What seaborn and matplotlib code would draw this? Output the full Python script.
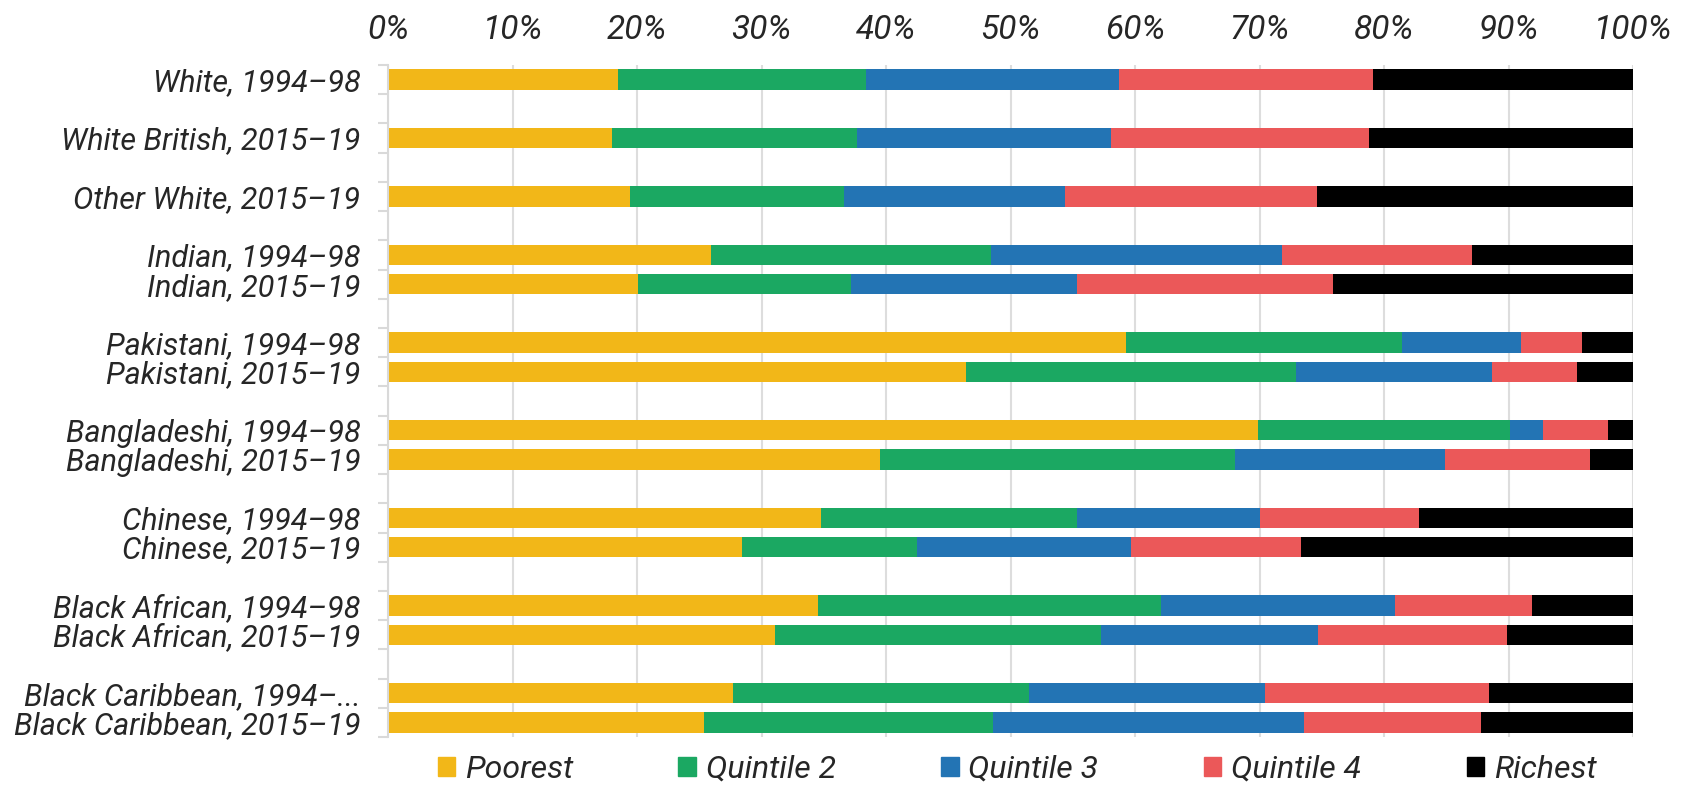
import numpy as np
import pandas as pd
import matplotlib
matplotlib.use('Agg')
import matplotlib.pyplot as plt
from matplotlib.patches import Patch
import seaborn as sns

# Rows of the chart (top to bottom)
rows = [
    'White, 1994–98', 'White British, 2015–19', 'Other White, 2015–19',
    'Indian, 1994–98', 'Indian, 2015–19',
    'Pakistani, 1994–98', 'Pakistani, 2015–19',
    'Bangladeshi, 1994–98', 'Bangladeshi, 2015–19',
    'Chinese, 1994–98', 'Chinese, 2015–19',
    'Black African, 1994–98', 'Black African, 2015–19',
    'Black Caribbean, 1994–...', 'Black Caribbean, 2015–19',
]

# Share of each group in each income quintile (%)
poorest    = [18.5, 18.0, 19.4, 25.9, 20.1, 59.3, 46.4, 69.9, 39.5, 34.8, 28.4, 34.5, 31.1, 27.7, 25.4]
quintile_2 = [19.9, 19.7, 17.2, 22.5, 17.1, 22.1, 26.5, 20.2, 28.5, 20.5, 14.1, 27.6, 26.2, 23.8, 23.2]
quintile_3 = [20.3, 20.4, 17.8, 23.4, 18.1,  9.6, 15.8,  2.7, 16.9, 14.7, 17.2, 18.8, 17.4, 18.9, 25.0]
quintile_4 = [20.4, 20.7, 20.2, 15.3, 20.6,  4.9,  6.8,  5.2, 11.6, 12.8, 13.6, 11.0, 15.2, 18.0, 14.2]
richest    = [20.9, 21.2, 25.4, 12.9, 24.1,  4.1,  4.5,  2.0,  3.5, 17.2, 26.7,  8.1, 10.1, 11.6, 12.2]

series_names = ['Poorest', 'Quintile 2', 'Quintile 3', 'Quintile 4', 'Richest']
colors = ['#F2B718', '#1BA862', '#2374B4', '#EB5859', '#000000']

# blank slots after these rows
gap_after = [0, 1, 2, 4, 6, 8, 10, 12]

order = []
for i, r in enumerate(rows):
    order.append(r)
    if i in gap_after:
        order.append('gap%d' % i)

df = pd.DataFrame({'row': rows, 'Poorest': poorest, 'Quintile 2': quintile_2,
                   'Quintile 3': quintile_3, 'Quintile 4': quintile_4, 'Richest': richest})
cum = df[series_names].cumsum(axis=1)

sns.set_style('white')
plt.rcParams['font.family'] = ['Roboto', 'DejaVu Sans']
plt.rcParams['font.style'] = 'italic'

fig, ax = plt.subplots(figsize=(16.96, 7.85), dpi=100)
fig.subplots_adjust(left=0.2288, right=0.9629, top=0.9172, bottom=0.0611)

# overlay cumulative bars, longest first
for name, col in reversed(list(zip(series_names, colors))):
    sns.barplot(x=cum[name], y=df['row'], order=order, orient='h', color=col,
                saturation=1, width=0.7, linewidth=0, ax=ax)

ax.set_xlim(0, 100)
ax.set_xticks(np.arange(0, 101, 10))
ax.set_xticklabels(['%d%%' % v for v in range(0, 101, 10)])
ax.xaxis.tick_top()
ax.tick_params(axis='x', length=0, pad=14, labelsize=24)
ax.set_xlabel('')
ax.set_ylabel('')

ax.set_yticks(np.arange(len(order)))
ax.set_yticklabels([o if not o.startswith('gap') else '' for o in order])
ax.tick_params(axis='y', which='major', length=0, pad=20, labelsize=22)
ax.set_yticks(np.arange(-0.5, len(order), 1), minor=True)
ax.tick_params(axis='y', which='minor', length=7, width=1.5, color='#d9d9d9', left=True)
ax.set_ylim(len(order) - 0.5, -0.5)

ax.grid(axis='x', color='#dddddd', linewidth=1.5)
ax.set_axisbelow(True)
for s in ['top', 'right', 'bottom']:
    ax.spines[s].set_visible(False)
ax.spines['left'].set_color('#d9d9d9')
ax.spines['left'].set_linewidth(1.5)

handles = [Patch(color=c) for c in colors]
fig.legend(handles, series_names, loc='center', bbox_to_anchor=(1017 / 1696, 1 - 769 / 785),
           ncol=5, frameon=False, fontsize=23, handlelength=0.55, handleheight=0.55,
           handletextpad=0.3, columnspacing=3.3)

plt.savefig('out.png', dpi=100)
